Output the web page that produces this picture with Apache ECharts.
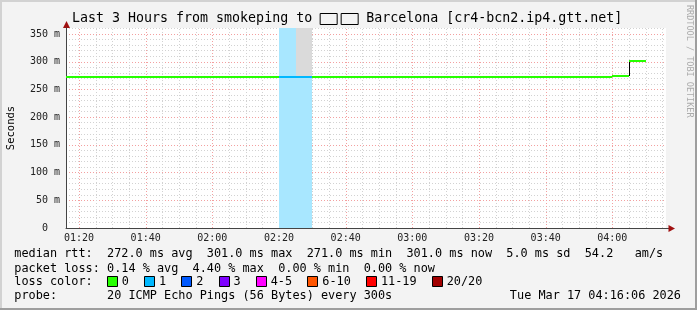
<!DOCTYPE html>
<html><head><meta charset="utf-8">
<script src="https://cdn.jsdelivr.net/npm/echarts@6/dist/echarts.min.js"></script>
<style>html,body{margin:0;padding:0;background:#f3f3f3}#c{width:697px;height:310px}</style>
</head><body><div id="c"></div>
<script>
// ---- data (5-minute intervals, start times) ----
const intervalStarts = ['01:15','01:20','01:25','01:30','01:35','01:40','01:45','01:50','01:55',
  '02:00','02:05','02:10','02:15','02:20','02:25','02:30','02:35','02:40','02:45','02:50','02:55',
  '03:00','03:05','03:10','03:15','03:20','03:25','03:30','03:35','03:40','03:45','03:50','03:55',
  '04:00','04:05'];
const medianRttMs = [272,272,272,272,272,272,272,272,272,
  272,272,272,272,272,272,272,272,272,272,272,272,
  272,272,272,272,272,272,272,272,272,272,272,272,
  275,301];
const lossPct = [0,0,0,0,0,0,0,0,0,
  0,0,0,0,4.4,0.6,0,0,0,0,0,0,
  0,0,0,0,0,0,0,0,0,0,0,0,
  0,0];
const smokeMaxMs = [null,null,null,null,null,null,null,null,null,
  null,null,null,null,null,380,null,null,null,null,null,null,
  null,null,null,null,null,null,null,null,null,null,null,null,
  null,null];
const lossBuckets = ['0','1','2','3','4-5','6-10','11-19','20/20'];
const lossBucketMax = [0,1,2,3,5,10,19,20];
const lossColors = ['#26ff00','#00b8ff','#0059ff','#7e00ff','#ff00ff','#ff5500','#ff0000','#a10000'];
const xTickLabels = ['01:20','01:40','02:00','02:20','02:40','03:00','03:20','03:40','04:00'];
const yTickLabels = [0,50,100,150,200,250,300,350];
const pingsPerStep = 20;
const stepMin = 5;
const viewEndTime = '04:16:06';
const yMax = 361;

const titleLeft = 'Last 3 Hours from smokeping to ';
const titleRight = ' Barcelona [cr4-bcn2.ip4.gtt.net]';
const lineRtt = 'median rtt:  272.0 ms avg  301.0 ms max  271.0 ms min  301.0 ms now  5.0 ms sd  54.2   am/s';
const lineLoss = 'packet loss: 0.14 % avg  4.40 % max  0.00 % min  0.00 % now';
const lineLossLabel = 'loss color:';
const lineProbe = 'probe:       20 ICMP Echo Pings (56 Bytes) every 300s';
const lineDate = 'Tue Mar 17 04:16:06 2026';
const watermark = 'RRDTOOL / TOBI OETIKER';

// ---- helpers ----
function toMin(s){ const p = s.split(':').map(Number); return p[0]*60 + p[1] + (p[2]||0)/60; }
function fmt(v){ const h = Math.floor(v/60), m = Math.round(v - h*60); return String(h).padStart(2,'0')+':'+String(m).padStart(2,'0'); }
function lossIndex(pct){
  const c = pct/100*pingsPerStep;
  if (c === 0) return 0;
  for (let i = 1; i < lossBucketMax.length; i++) if (c <= lossBucketMax[i]) return i;
  return lossBucketMax.length-1;
}
function lighten(hex, f){
  const n = parseInt(hex.slice(1),16);
  const r=(n>>16)&255, g=(n>>8)&255, b=n&255;
  const L = c => Math.round(c + (255-c)*f);
  return 'rgb('+L(r)+','+L(g)+','+L(b)+')';
}
const viewEnd = toMin(viewEndTime);
const viewStart = viewEnd - 180;
const xGridValues = [];
for (let v = Math.ceil(viewStart/stepMin)*stepMin; v <= viewEnd; v += stepMin) xGridValues.push(v);
const xLabelValues = xTickLabels.map(toMin);
const gridData = xGridValues.map(v => [v, xLabelValues.indexOf(v) >= 0 ? 1 : 0]);

const segData = intervalStarts.map((s,i)=>[toMin(s), toMin(s)+stepMin, medianRttMs[i], lossIndex(lossPct[i])]);
const smokeData = [];
intervalStarts.forEach((s,i)=>{ if (smokeMaxMs[i] != null) smokeData.push([toMin(s), toMin(s)+stepMin, medianRttMs[i], smokeMaxMs[i]]); });
const riseData = [];
intervalStarts.forEach((s,i)=>{ if (i > 0 && medianRttMs[i] !== medianRttMs[i-1]) riseData.push([toMin(s), medianRttMs[i-1], medianRttMs[i]]); });

const clampX = x => Math.max(viewStart, Math.min(viewEnd, x));
const clampY = y => Math.max(0, Math.min(yMax, y));

const mono = 'DejaVu Sans Mono';
const cw = 7.135;
const bottomFont = '11.85px "DejaVu Sans Mono"';
const tx0 = 14.3;
const majorGrid = '#f3a0a0', minorGrid = '#d2d2d2';

const legendGraphics = [];
let sx = 107;
lossBuckets.forEach((lab,i)=>{
  legendGraphics.push({type:'rect', shape:{x:Math.round(sx)+0.5, y:276.5, width:10, height:10},
    style:{fill:lossColors[i], stroke:'#000', lineWidth:1}, silent:true});
  const tx = sx + 14.8;
  legendGraphics.push({type:'text', x:tx, y:282, style:{text:lab, font:bottomFont, fill:'#000', textVerticalAlign:'middle'}});
  sx = tx + lab.length*cw + 15.3;
});

const chart = echarts.init(document.getElementById('c'), null, {renderer:'canvas'});
chart.setOption({
  animation:false,
  backgroundColor:'#f3f3f3',
  grid:{left:66, right:31, top:28, bottom:82, show:true, backgroundColor:'#ffffff', borderWidth:0,
    containLabel:false, outerBoundsMode:'none'},
  xAxis:{type:'value', min:viewStart, max:viewEnd,
    axisLine:{show:true, onZero:false, lineStyle:{color:'#444', width:1}},
    axisTick:{show:false, customValues:xLabelValues},
    axisLabel:{customValues:xLabelValues, formatter:v=>fmt(v), fontFamily:mono, fontSize:10, color:'#222', margin:5},
    splitLine:{show:false}
  },
  yAxis:{type:'value', min:0, max:yMax, interval:10,
    axisLine:{show:true, lineStyle:{color:'#444', width:1}},
    axisTick:{show:false},
    axisLabel:{formatter:v=> yTickLabels.indexOf(v)>=0 ? (v===0?'0  ':v+' m') : '', fontFamily:mono, fontSize:10, color:'#222', margin:6},
    splitLine:{show:true, lineStyle:{color:[majorGrid,minorGrid,minorGrid,minorGrid,minorGrid], type:[1,2], width:1}},
    name:'Seconds', nameLocation:'middle', nameGap:49, nameTextStyle:{fontFamily:mono, fontSize:10.5, color:'#000'}
  },
  series:[
    {type:'custom', name:'vgrid', data:gridData, encode:{x:0}, clip:true, z:0, silent:true,
      renderItem:(params, api)=>{
        const p0 = api.coord([api.value(0), 0]);
        const p1 = api.coord([api.value(0), yMax]);
        const x = Math.round(p0[0]) + 0.5;
        return {type:'line', shape:{x1:x, y1:p0[1], x2:x, y2:p1[1]},
          style:{stroke: api.value(1) ? majorGrid : minorGrid, lineWidth:1, lineDash:[1,2]}};
      }},
    {type:'custom', name:'lossbg', data:segData, encode:{x:[0,1], y:2}, clip:true, z:1,
      renderItem:(params, api)=>{
        const idx = api.value(3);
        if (!idx) return null;
        const p0 = api.coord([clampX(api.value(0)), yMax]);
        const p1 = api.coord([clampX(api.value(1)), 0]);
        const x0 = Math.round(p0[0]), x1 = Math.round(p1[0]);
        return {type:'rect', shape:{x:x0, y:p0[1], width:x1-x0, height:p1[1]-p0[1]},
          style:{fill:lighten(lossColors[idx], 0.66)}};
      }},
    {type:'custom', name:'smoke', data:smokeData, encode:{x:[0,1], y:[2,3]}, clip:true, z:2,
      renderItem:(params, api)=>{
        const p0 = api.coord([clampX(api.value(0)), clampY(api.value(3))]);
        const p1 = api.coord([clampX(api.value(1)), clampY(api.value(2))]);
        const x0 = Math.round(p0[0]), x1 = Math.round(p1[0]);
        return {type:'rect', shape:{x:x0, y:p0[1], width:x1-x0, height:p1[1]-p0[1]},
          style:{fill:'#dadada'}};
      }},
    {type:'custom', name:'medianRise', data:riseData, encode:{x:0, y:[1,2]}, clip:true, z:3,
      renderItem:(params, api)=>{
        const p0 = api.coord([api.value(0), api.value(1)]);
        const p1 = api.coord([api.value(0), api.value(2)]);
        const x = Math.round(p0[0]) + 0.5;
        return {type:'line', shape:{x1:x, y1:Math.round(p0[1]), x2:x, y2:Math.round(p1[1])},
          style:{stroke:'#000', lineWidth:1}};
      }},
    {type:'custom', name:'medianColored', data:segData, encode:{x:[0,1], y:2}, clip:true, z:4,
      renderItem:(params, api)=>{
        const p0 = api.coord([clampX(api.value(0)), api.value(2)]);
        const p1 = api.coord([clampX(api.value(1)), api.value(2)]);
        const y = Math.round(p0[1]);
        return {type:'line', shape:{x1:Math.round(p0[0]), y1:y, x2:Math.round(p1[0]), y2:y},
          style:{stroke:lossColors[api.value(3)], lineWidth:2}};
      }}
  ],
  graphic:[
    {type:'rect', shape:{x:0, y:0, width:697, height:2}, style:{fill:'#d2d2d2'}, silent:true},
    {type:'rect', shape:{x:0, y:0, width:2, height:310}, style:{fill:'#d2d2d2'}, silent:true},
    {type:'rect', shape:{x:695, y:0, width:2, height:310}, style:{fill:'#9e9e9e'}, silent:true},
    {type:'rect', shape:{x:0, y:308, width:697, height:2}, style:{fill:'#9e9e9e'}, silent:true},
    {type:'polygon', shape:{points:[[63,28],[70,28],[66.5,21]]}, style:{fill:'#a01010'}, silent:true},
    {type:'line', shape:{x1:666, y1:228.5, x2:669, y2:228.5}, style:{stroke:'#444', lineWidth:1}, silent:true},
    {type:'polygon', shape:{points:[[668.5,225],[668.5,232],[675,228.5]]}, style:{fill:'#a01010'}, silent:true},
    {type:'text', x:72, y:19, style:{
      text:'{a|'+titleLeft+'}{b| }{s| }{b| }{a|'+titleRight+'}',
      textVerticalAlign:'middle',
      rich:{
        a:{fontFamily:mono, fontSize:13.3, fill:'#000'},
        b:{width:17, height:11, borderColor:'#000', borderWidth:1, fontSize:10},
        s:{width:4, fontSize:10}
      }}},
    {type:'text', x:689, y:5, rotation:-Math.PI/2, style:{text:watermark, font:'8.5px "DejaVu Sans Mono"', fill:'#ababab', textVerticalAlign:'middle', textAlign:'left'}},
    {type:'text', x:tx0, y:254, style:{text:lineRtt, font:bottomFont, fill:'#000', textVerticalAlign:'middle'}},
    {type:'text', x:tx0, y:268.5, style:{text:lineLoss, font:bottomFont, fill:'#000', textVerticalAlign:'middle'}},
    {type:'text', x:tx0, y:282, style:{text:lineLossLabel, font:bottomFont, fill:'#000', textVerticalAlign:'middle'}},
    {type:'text', x:tx0, y:296, style:{text:lineProbe, font:bottomFont, fill:'#000', textVerticalAlign:'middle'}},
    {type:'text', x:681, y:296, style:{text:lineDate, font:bottomFont, fill:'#000', textVerticalAlign:'middle', textAlign:'right'}}
  ].concat(legendGraphics)
});
</script></body></html>
